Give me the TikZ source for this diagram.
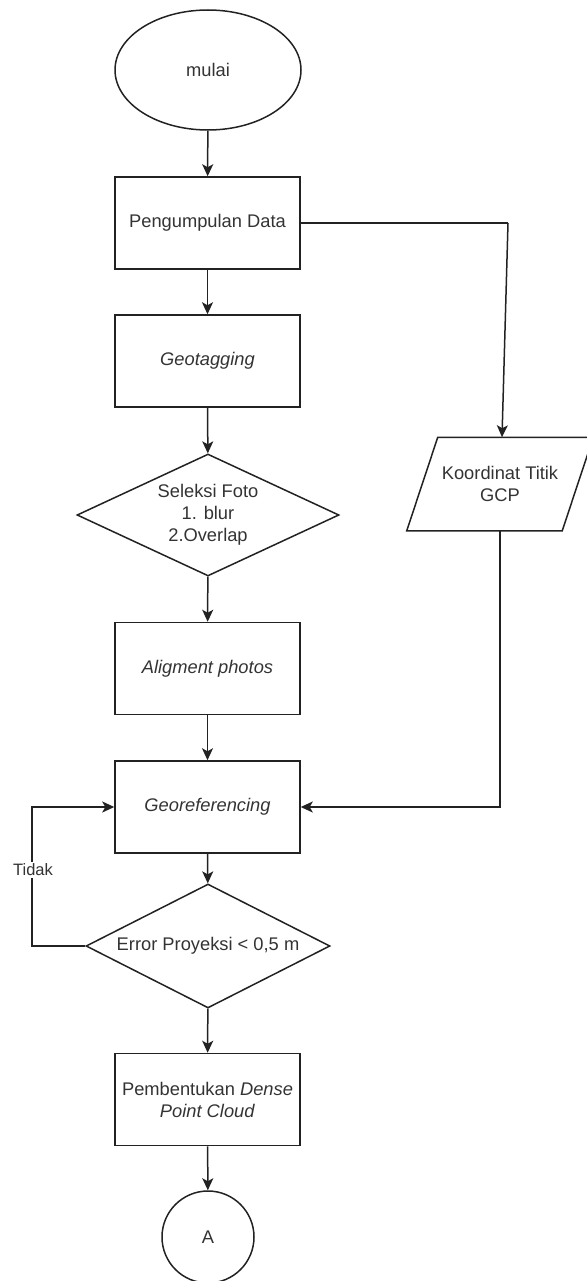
\documentclass[tikz,border=0pt]{standalone}
\usepackage{fontspec}
\setmainfont{Liberation Sans}
\usetikzlibrary{shapes.geometric,arrows.meta,calc}
\definecolor{linec}{HTML}{222222}
\definecolor{textc}{HTML}{333333}
\tikzset{
  base/.style={draw=linec, line width=1.5pt, text=textc, inner sep=0pt, align=center,
    font=\fontsize{18.3}{22}\selectfont},
  procbox/.style={base, rectangle, minimum width=185pt, minimum height=92pt},
  startnode/.style={base, ellipse, minimum width=186pt, minimum height=120pt},
  decision/.style={base, diamond, aspect=2},
  iotext/.style={base, draw=none, rectangle, minimum width=154pt, minimum height=92pt},
  connector/.style={circle, draw=linec, line width=1.5pt, text=textc, minimum size=92pt, inner sep=0pt,
    font=\fontsize{18.3}{22}\selectfont},
  flow/.style={draw=linec, line width=1.5pt, -{Stealth[length=12pt,width=11pt,inset=3pt]}},
  plain/.style={draw=linec, line width=1.5pt},
  lbl/.style={fill=white, text=textc, inner sep=1.5pt, font=\fontsize{16.5}{19}\selectfont}
}
\begin{document}
\begin{tikzpicture}[x=1pt,y=-1pt]
\useasboundingbox (0,0) rectangle (586,1281);
\node[startnode] (mulai) at (208,70) {mulai};
\node[procbox] (peng) at (207.5,223) {Pengumpulan Data};
\node[procbox] (geo) at (207.5,361) {\itshape Geotagging};
\node[decision, minimum width=262pt, minimum height=122pt] (sel) at (208,515) {Seleksi Foto\\1. blur\\2.Overlap};
\node[procbox] (alig) at (207.5,668.5) {\itshape Aligment photos};
\node[procbox] (georef) at (207.5,807) {\itshape Georeferencing};
\node[decision, minimum width=244pt, minimum height=124pt] (err) at (208,946) {Error Proyeksi {<} 0,5 m};
\node[procbox] (dense) at (207.5,1099.5) {Pembentukan \textit{Dense}\\\textit{Point Cloud}};
\node[connector] (A) at (208,1237) {A};
\node[iotext] (gcp) at (500,484) {Koordinat Titik\\GCP};
\draw[plain, line join=miter] ($(gcp.south west)+(-15.5,0)$) -- ($(gcp.south east)+(-15.5,0)$)
  -- ($(gcp.north east)+(15.5,0)$) -- ($(gcp.north west)+(15.5,0)$) -- cycle;

\coordinate (c1) at (508,223);
\coordinate (c2) at (32,946);
\coordinate (c3) at (32,807);

\draw[flow] (mulai) -- (peng);
\draw[flow] (peng) -- (geo);
\draw[flow] (geo) -- (sel);
\draw[flow] (sel) -- (alig);
\draw[flow] (alig) -- (georef);
\draw[flow] (georef) -- (err);
\draw[flow] (err) -- (dense);
\draw[flow] (dense) -- (A);
\draw[plain] (peng.east) -- (c1);
\draw[flow] (c1) -- ($(gcp.north)+(2,0)$);
\draw[flow] (gcp.south) -- (gcp.south |- georef.east) -- (georef.east);
\draw[flow] (err.west) -- (c2) -- (c3) -- (georef.west);
\node[lbl] (tidak) at (33,870) {Tidak};
\end{tikzpicture}
\end{document}
